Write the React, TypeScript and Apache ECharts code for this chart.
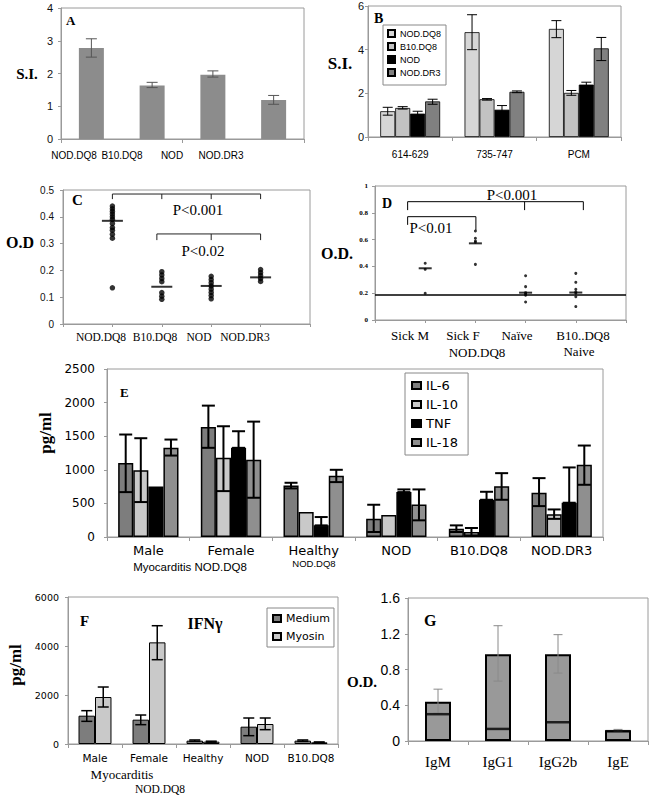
import React, { useEffect, useRef } from 'react';
import * as echarts from 'echarts';

const SANS = '"Liberation Sans", Arial, sans-serif';
const SERIF = '"Liberation Serif", "Times New Roman", serif';
const WIDE = '"DejaVu Sans", Verdana, sans-serif';

// ---------- Panel A ----------
const aCategories = ['NOD.DQ8', 'B10.DQ8', 'NOD', 'NOD.DR3'];
const aValues = [2.78, 1.63, 1.96, 1.19];
const aLow = [2.5, 1.57, 1.89, 1.06];
const aHigh = [3.06, 1.73, 2.08, 1.33];

// ---------- Panel B ----------
const bCategories = ['614-629', '735-747', 'PCM'];
const bSeriesNames = ['NOD.DQ8', 'B10.DQ8', 'NOD', 'NOD.DR3'];
const bValues = [
  [1.18, 4.8, 4.95],
  [1.33, 1.73, 2.02],
  [1.07, 1.25, 2.4],
  [1.63, 2.07, 4.06],
];
const bLow = [
  [1.0, 4.0, 4.55],
  [1.28, 1.69, 1.91],
  [0.98, 1.07, 2.32],
  [1.5, 2.03, 3.5],
];
const bHigh = [
  [1.36, 5.6, 5.33],
  [1.39, 1.76, 2.13],
  [1.18, 1.44, 2.51],
  [1.73, 2.11, 4.56],
];
const bColors = ['#d6d6d6', '#c2c2c2', '#000000', '#808080'];

// ---------- Panel C ----------
const cLabels = ['NOD.DQ8', 'B10.DQ8', 'NOD', 'NOD.DR3'];
const cNODDQ8 = [0.44, 0.43, 0.42, 0.41, 0.4, 0.39, 0.375, 0.36, 0.35, 0.335, 0.32, 0.135];
const cB10DQ8 = [0.195, 0.183, 0.17, 0.158, 0.117, 0.104, 0.092];
const cNOD = [0.178, 0.166, 0.154, 0.142, 0.13, 0.118, 0.106, 0.094];
const cNODDR3 = [0.203, 0.192, 0.181, 0.17, 0.159];
const cMeans = [0.385, 0.139, 0.142, 0.174];
const cBracketTicks = [[1, 2, 3, 4], [1.9, 3, 4]];
const cBracketY = [0.485, 0.336];
const cBracketDrop = [[0.466, 0.466, 0.466, 0.466], [0.313, 0.313, 0.313]];
const cPTexts = ['P<0.001', 'P<0.02'];

// ---------- Panel D ----------
const dLabels = ['Sick M', 'Sick F', 'Naïve', 'B10..DQ8'];
const dSickM = [0.423, 0.378, 0.199];
const dSickF = [0.664, 0.61, 0.59, 0.58, 0.415];
const dNaive = [0.33, 0.249, 0.204, 0.195, 0.185, 0.134];
const dB10 = [0.348, 0.281, 0.229, 0.21, 0.2, 0.174, 0.1];
const dMeans = [0.386, 0.572, 0.204, 0.205];
const dCutoff = 0.194;
const dBracketTicks = [[0.65, 2.98, 4.15], [0.65, 2.01]];
const dBracketY = [0.883, 0.771];
const dBracketDrop = [[0.82, 0.82, 0.82], [0.71, 0.67]];
const dPTexts = ['P<0.001', 'P<0.01'];

// ---------- Panel E ----------
const eCategories = ['Male', 'Female', 'Healthy', 'NOD', 'B10.DQ8', 'NOD.DR3'];
const eSeriesNames = ['IL-6', 'IL-10', 'TNF', 'IL-18'];
const eValues = [
  [1100, 1638, 767, 272, 124, 658],
  [995, 1178, 371, 327, 74, 340],
  [750, 1327, 173, 668, 554, 510],
  [1327, 1148, 911, 485, 757, 1074],
];
const eLow = [
  [668, 1327, 723, 74, 74, 460],
  [520, 683, null, null, 25, 270],
  [750, 1327, 173, 668, 554, 510],
  [1212, 584, 817, 248, 554, 777],
];
const eHigh = [
  [1525, 1955, 807, 480, 173, 876],
  [1470, 1648, null, null, 134, 410],
  [null, 1574, 297, 708, 673, 1035],
  [1450, 1717, 1000, 708, 950, 1361],
];
const eColors = ['#7d7d7d', '#c9c9c9', '#000000', '#8f8f8f'];

// ---------- Panel F ----------
const fCategories = ['Male', 'Female', 'Healthy', 'NOD', 'B10.DQ8'];
const fSeriesNames = ['Medium', 'Myosin'];
const fValues = [
  [1156, 993, 136, 707, 136],
  [1918, 4148, 95, 816, 68],
];
const fLow = [
  [925, 789, 110, 340, 110],
  [1510, 3441, 75, 585, 55],
];
const fHigh = [
  [1360, 1183, 165, 1061, 165],
  [2326, 4828, 115, 1061, 85],
];
const fColors = ['#7d7d7d', '#c9c9c9'];

// ---------- Panel G ----------
const gCategories = ['IgM', 'IgG1', 'IgG2b', 'IgE'];
const gValues = [0.44, 0.97, 0.97, 0.12];
const gLow = [0.31, 0.67, 0.76, 0.11];
const gHigh = [0.58, 1.29, 1.19, 0.13];
const gMarks = [0.3, 0.135, 0.21, 0.11];

const axisGray = '#9a9a9a';
const plain = (v: number) => String(v);

function errItem(n: number, gap: number, cap: number, color: string, lw: number) {
  return (params: any, api: any) => {
    const cat = api.value(0);
    const lo = api.value(1);
    const hi = api.value(2);
    const si = api.value(3);
    const band = api.size([1, 0])[0];
    const bw = (band * (1 - gap)) / n;
    const dx = (si - (n - 1) / 2) * bw;
    const pHi = api.coord([cat, hi]);
    const pLo = api.coord([cat, lo]);
    const x = pHi[0] + dx;
    const style = { stroke: color, lineWidth: lw, fill: null };
    return {
      type: 'group',
      children: [
        { type: 'line', shape: { x1: x, y1: pLo[1], x2: x, y2: pHi[1] }, style },
        { type: 'line', shape: { x1: x - cap / 2, y1: pHi[1], x2: x + cap / 2, y2: pHi[1] }, style },
        { type: 'line', shape: { x1: x - cap / 2, y1: pLo[1], x2: x + cap / 2, y2: pLo[1] }, style },
      ],
    };
  };
}

function bracketItem(ticks: number[][], ys: number[], drops: number[][], color: string) {
  return (params: any, api: any) => {
    const i = api.value(2);
    const t = ticks[i];
    const y = ys[i];
    const d = drops[i];
    const style = { stroke: color, lineWidth: 1, fill: null };
    const a = api.coord([t[0], y]);
    const b = api.coord([t[t.length - 1], y]);
    const children: any[] = [{ type: 'line', shape: { x1: a[0], y1: a[1], x2: b[0], y2: b[1] }, style }];
    t.forEach((x, k) => {
      const p = api.coord([x, y]);
      const q = api.coord([x, d[k]]);
      children.push({ type: 'line', shape: { x1: p[0], y1: p[1], x2: q[0], y2: q[1] }, style });
    });
    return { type: 'group', children };
  };
}

function errData(values: number[][], low: (number | null)[][], high: (number | null)[][]) {
  const out: number[][] = [];
  values.forEach((row, s) => {
    row.forEach((v, c) => {
      const hi = high[s][c];
      if (hi == null) return;
      const lo = low[s][c] == null ? v : (low[s][c] as number);
      out.push([c, lo, hi, s]);
    });
  });
  return out;
}

function txt(x: number, y: number, text: string, size: number, family: string, weight = 'normal', align = 'center', extra: any = {}) {
  return {
    type: 'text',
    x,
    y,
    silent: true,
    ...extra,
    style: {
      text,
      fontSize: size,
      fontFamily: family,
      fontWeight: weight,
      fill: '#000',
      align,
      textAlign: align,
      verticalAlign: 'middle',
      textVerticalAlign: 'middle',
    },
  };
}

function gridBox(left: number, top: number, width: number, height: number) {
  return { left, top, width, height, show: true, borderColor: axisGray, borderWidth: 1, backgroundColor: '#fff' };
}

function catX(gridIndex: number, data: string[], label: any) {
  return {
    type: 'category',
    gridIndex,
    data,
    axisLine: { lineStyle: { color: axisGray } },
    axisTick: { show: true, length: 4, lineStyle: { color: axisGray } },
    axisLabel: label,
  };
}

function valY(gridIndex: number, min: number, max: number, interval: number, label: any) {
  return {
    type: 'value',
    gridIndex,
    min,
    max,
    interval,
    axisLine: { show: true, lineStyle: { color: axisGray } },
    axisTick: { show: true, length: 3, lineStyle: { color: axisGray } },
    splitLine: { show: false },
    axisLabel: { formatter: plain, ...label },
  };
}

function valX(gridIndex: number) {
  return {
    type: 'value',
    gridIndex,
    min: 0,
    max: 5,
    interval: 1,
    axisLine: { show: true, lineStyle: { color: axisGray } },
    axisTick: { show: true, length: 3, lineStyle: { color: axisGray } },
    splitLine: { show: false },
    axisLabel: { show: false },
  };
}

export default function App() {
  const ref = useRef<HTMLDivElement>(null);

  useEffect(() => {
    if (!ref.current) return;
    const chart = echarts.init(ref.current, null, { renderer: 'svg' });

    const series: any[] = [];

    // A
    series.push({
      type: 'bar', name: 'A-bars', xAxisIndex: 0, yAxisIndex: 0, data: aValues, barWidth: 25,
      itemStyle: { color: '#8c8c8c' }, silent: true,
    });
    series.push({
      type: 'custom', xAxisIndex: 0, yAxisIndex: 0, z: 5, silent: true,
      renderItem: errItem(1, 0, 11, '#555', 1),
      data: aValues.map((v, i) => [i, aLow[i], aHigh[i], 0]),
    });

    // B
    bSeriesNames.forEach((name, s) => {
      series.push({
        type: 'bar', name, xAxisIndex: 1, yAxisIndex: 1, data: bValues[s], barGap: '0%', barCategoryGap: '29%',
        itemStyle: { color: bColors[s], borderColor: '#000', borderWidth: 0.8 }, silent: true,
      });
    });
    series.push({
      type: 'custom', xAxisIndex: 1, yAxisIndex: 1, z: 5, silent: true,
      renderItem: errItem(4, 0.29, 10, '#000', 1),
      data: errData(bValues, bLow, bHigh),
    });

    // C
    const cGroups = [cNODDQ8, cB10DQ8, cNOD, cNODDR3];
    series.push({
      type: 'scatter', name: 'C-points', xAxisIndex: 2, yAxisIndex: 2, symbolSize: 5.5, silent: true,
      itemStyle: { color: '#000' },
      data: cGroups.flatMap((g, i) => g.map((v) => [i + 1, v])),
    });
    series.push({
      type: 'scatter', name: 'C-means', xAxisIndex: 2, yAxisIndex: 2, symbol: 'rect', symbolSize: [21, 2], silent: true,
      itemStyle: { color: '#000' },
      data: cMeans.map((v, i) => [i + 1, v]),
    });
    series.push({
      type: 'custom', xAxisIndex: 2, yAxisIndex: 2, silent: true,
      renderItem: bracketItem(cBracketTicks, cBracketY, cBracketDrop, '#222'),
      data: cBracketY.map((y, i) => [cBracketTicks[i][0], y, i]),
    });

    // D
    const dGroups = [dSickM, dSickF, dNaive, dB10];
    series.push({
      type: 'scatter', name: 'D-points', xAxisIndex: 3, yAxisIndex: 3, symbolSize: 3, silent: true,
      itemStyle: { color: '#000' },
      data: dGroups.flatMap((g, i) => g.map((v) => [i + 1, v])),
      markLine: {
        silent: true, symbol: 'none', label: { show: false },
        lineStyle: { color: '#000', width: 1.5, type: 'solid' },
        data: [{ yAxis: dCutoff }],
      },
    });
    series.push({
      type: 'scatter', name: 'D-means', xAxisIndex: 3, yAxisIndex: 3, symbol: 'rect', symbolSize: [13, 2], silent: true,
      itemStyle: { color: '#000' },
      data: dMeans.map((v, i) => [i + 1, v]),
    });
    series.push({
      type: 'custom', xAxisIndex: 3, yAxisIndex: 3, silent: true,
      renderItem: bracketItem(dBracketTicks, dBracketY, dBracketDrop, '#000'),
      data: dBracketY.map((y, i) => [dBracketTicks[i][0], y, i]),
    });

    // E
    eSeriesNames.forEach((name, s) => {
      series.push({
        type: 'bar', name, xAxisIndex: 4, yAxisIndex: 4, data: eValues[s], barGap: '0%', barCategoryGap: '27%',
        itemStyle: { color: eColors[s], borderColor: '#000', borderWidth: 1.5 }, silent: true,
      });
    });
    series.push({
      type: 'custom', xAxisIndex: 4, yAxisIndex: 4, z: 5, silent: true,
      renderItem: errItem(4, 0.27, 13, '#000', 2),
      data: errData(eValues, eLow, eHigh),
    });

    // F
    fSeriesNames.forEach((name, s) => {
      series.push({
        type: 'bar', name, xAxisIndex: 5, yAxisIndex: 5, data: fValues[s], barGap: '0%', barCategoryGap: '39%',
        itemStyle: { color: fColors[s], borderColor: '#000', borderWidth: 1 }, silent: true,
      });
    });
    series.push({
      type: 'custom', xAxisIndex: 5, yAxisIndex: 5, z: 5, silent: true,
      renderItem: errItem(2, 0.39, 11, '#000', 1.5),
      data: errData(fValues, fLow, fHigh),
    });

    // G
    series.push({
      type: 'bar', name: 'G-bars', xAxisIndex: 6, yAxisIndex: 6, data: gValues, barWidth: 26, silent: true,
      itemStyle: { color: '#999999', borderColor: '#000', borderWidth: 2 },
    });
    series.push({
      type: 'custom', xAxisIndex: 6, yAxisIndex: 6, z: 5, silent: true,
      renderItem: errItem(1, 0, 9, '#8a8a8a', 1),
      data: gValues.map((v, i) => [i, gLow[i], gHigh[i], 0]),
    });
    series.push({
      type: 'scatter', name: 'G-marks', xAxisIndex: 6, yAxisIndex: 6, symbol: 'rect', symbolSize: [25, 2.5], z: 6, silent: true,
      itemStyle: { color: '#000' },
      data: gMarks.map((v, i) => [i, v]),
    });

    const graphic: any[] = [
      // A
      txt(27, 74, 'S.I.', 15, SERIF, 'bold'),
      txt(66, 20, 'A', 13, SERIF, 'bold', 'left'),
      txt(74, 155, aCategories[0], 10, SANS),
      txt(122, 155, aCategories[1], 10, SANS),
      txt(172, 155, aCategories[2], 10, SANS),
      txt(221, 155, aCategories[3], 10, SANS),
      // B
      txt(340, 63, 'S.I.', 17, SERIF, 'bold'),
      txt(374, 18, 'B', 14, SERIF, 'bold', 'left'),
      // C
      txt(20, 242, 'O.D', 16, SERIF, 'bold'),
      txt(72, 200, 'C', 15, SERIF, 'bold', 'left'),
      txt(198, 210, cPTexts[0], 15, SERIF),
      txt(203, 251, cPTexts[1], 15, SERIF),
      txt(101, 337, cLabels[0], 11.5, SERIF),
      txt(155, 337, cLabels[1], 11.5, SERIF),
      txt(199, 337, cLabels[2], 11.5, SERIF),
      txt(245, 337, cLabels[3], 11.5, SERIF),
      // D
      txt(337, 253, 'O.D.', 16, SERIF, 'bold'),
      txt(382, 203, 'D', 14, SERIF, 'bold', 'left'),
      txt(512, 195, dPTexts[0], 15, SERIF),
      txt(431, 228, dPTexts[1], 15, SERIF),
      txt(410, 335, dLabels[0], 13, SERIF),
      txt(463, 335, dLabels[1], 13, SERIF),
      txt(517, 335, dLabels[2], 13, SERIF),
      txt(583, 335, dLabels[3], 13, SERIF),
      txt(477, 352, 'NOD.DQ8', 13, SERIF),
      txt(579, 351, 'Naive', 13, SERIF),
      // E
      txt(45, 433, 'pg/ml', 17, SERIF, 'bold', 'center', { rotation: Math.PI / 2 }),
      txt(120, 392, 'E', 13, SERIF, 'bold', 'left'),
      txt(190, 567, 'Myocarditis NOD.DQ8', 11.5, SANS),
      txt(314, 563, 'NOD.DQ8', 9.5, SANS),
      // F
      txt(15, 665, 'pg/ml', 17, SERIF, 'bold', 'center', { rotation: Math.PI / 2 }),
      txt(80, 621, 'F', 15, SERIF, 'bold', 'left'),
      txt(205, 623, 'IFNγ', 16, SERIF, 'bold'),
      txt(122, 774, 'Myocarditis', 13, SERIF),
      txt(160, 789, 'NOD.DQ8', 11.5, SERIF),
      // G
      txt(362, 682, 'O.D.', 15, SERIF, 'bold'),
      txt(424, 620, 'G', 16, SERIF, 'bold', 'left'),
    ];

    const option: any = {
      animation: false,
      backgroundColor: '#fff',
      grid: [
        gridBox(61, 8, 243, 131),
        gridBox(368, 6, 253, 131),
        gridBox(63, 190, 247, 134),
        gridBox(375, 186, 251, 134),
        gridBox(107, 369, 496, 168),
        gridBox(68, 597, 270, 147),
        gridBox(408, 598, 240, 143),
      ],
      xAxis: [
        catX(0, aCategories, { show: false }),
        catX(1, bCategories, { fontFamily: SANS, fontSize: 10, color: '#000', margin: 12 }),
        valX(2),
        valX(3),
        catX(4, eCategories, { fontFamily: WIDE, fontSize: 13, color: '#000', margin: 7, interval: 0 }),
        catX(5, fCategories, { fontFamily: WIDE, fontSize: 10.5, color: '#000', margin: 8, interval: 0 }),
        catX(6, gCategories, { fontFamily: SERIF, fontSize: 15, color: '#000', margin: 13 }),
      ],
      yAxis: [
        valY(0, 0, 4, 1, { fontFamily: SANS, fontSize: 11, color: '#111', margin: 8 }),
        valY(1, 0, 6, 2, { fontFamily: SANS, fontSize: 11, color: '#111', margin: 4 }),
        valY(2, 0, 0.5, 0.1, { fontFamily: SANS, fontSize: 10, color: '#111', margin: 9 }),
        valY(3, 0, 1, 0.2, { fontFamily: SERIF, fontSize: 7, fontWeight: 'bold', color: '#000', margin: 7 }),
        valY(4, 0, 2500, 500, { fontFamily: WIDE, fontSize: 12, color: '#000', margin: 12 }),
        valY(5, 0, 6000, 2000, { fontFamily: WIDE, fontSize: 9.5, color: '#000', margin: 9 }),
        valY(6, 0, 1.6, 0.4, { fontFamily: SANS, fontSize: 14, color: '#000', margin: 8 }),
      ],
      legend: [
        {
          data: bSeriesNames, orient: 'vertical', left: 383, top: 25, itemWidth: 7, itemHeight: 7, itemGap: 4,
          padding: [4, 5, 8, 4], borderColor: '#888', borderWidth: 1, backgroundColor: '#fff', selectedMode: false,
          icon: 'rect', textStyle: { fontFamily: SANS, fontSize: 9, color: '#000' },
        },
        {
          data: eSeriesNames, orient: 'vertical', left: 405, top: 373, itemWidth: 9, itemHeight: 7, itemGap: 6,
          padding: [6, 10, 6, 6], borderColor: '#888', borderWidth: 1, backgroundColor: '#fff', selectedMode: false,
          icon: 'rect', textStyle: { fontFamily: WIDE, fontSize: 13, color: '#000' },
        },
        {
          data: fSeriesNames, orient: 'vertical', left: 267, top: 608, itemWidth: 8, itemHeight: 7, itemGap: 7,
          padding: [5, 4, 5, 5], borderColor: '#888', borderWidth: 1, backgroundColor: '#fff', selectedMode: false,
          icon: 'rect', textStyle: { fontFamily: WIDE, fontSize: 11, color: '#000' },
        },
      ],
      series,
      graphic,
    };

    chart.setOption(option);
    return () => chart.dispose();
  }, []);

  return (
    <div
      ref={ref}
      style={{ position: 'fixed', left: 0, top: 0, width: 651, height: 797, background: '#fff' }}
    />
  );
}
